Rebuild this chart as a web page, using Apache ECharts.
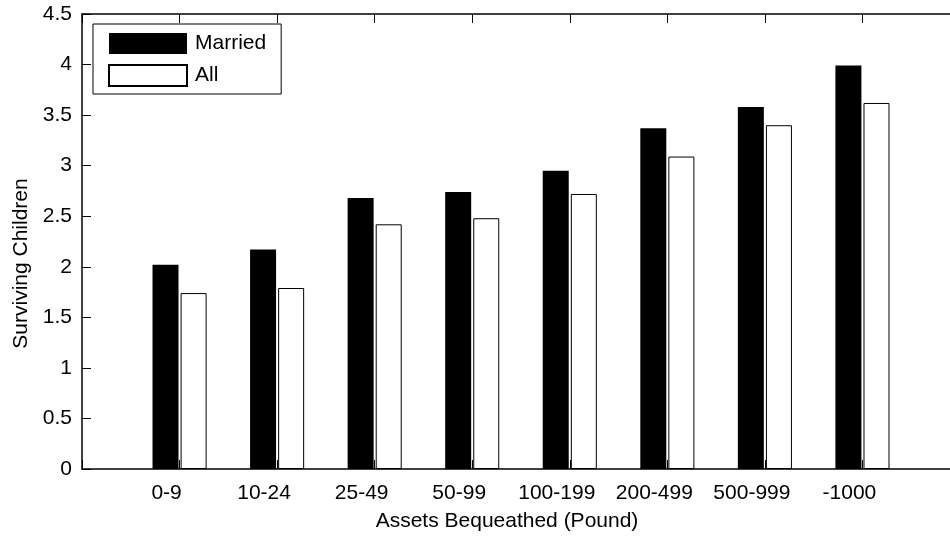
<!DOCTYPE html>
<html>
<head>
<meta charset="utf-8">
<script src="https://cdn.jsdelivr.net/npm/echarts@6/dist/echarts.min.js"></script>
<style>
  html, body { margin: 0; padding: 0; background: #fff; }
  #chart { width: 950px; height: 540px; }
</style>
</head>
<body>
<div id="chart"></div>
<script>
const categories = ['0-9', '10-24', '25-49', '50-99', '100-199', '200-499', '500-999', '-1000'];
const married = [2.02, 2.17, 2.68, 2.74, 2.95, 3.37, 3.58, 3.99];
const allVals = [1.74, 1.79, 2.42, 2.48, 2.72, 3.09, 3.40, 3.62];
const yTicks = { min: 0, max: 4.5, interval: 0.5 };

const FONT = "'Liberation Sans', Arial, Helvetica, sans-serif";
const FS = 21;
const chart = echarts.init(document.getElementById('chart'), null, { renderer: 'canvas' });

const axisLineStyle = { color: '#000', width: 1.5 };
const xCommon = {
  type: 'value', min: 0, max: categories.length + 1, interval: 1,
  splitLine: { show: false },
  axisLine: { show: true, onZero: false, lineStyle: axisLineStyle },
  axisTick: { show: true, inside: true, length: 9, lineStyle: { color: '#000', width: 1 } }
};
const yCommon = {
  type: 'value', min: yTicks.min, max: yTicks.max, interval: yTicks.interval,
  splitLine: { show: false },
  axisLine: { show: true, onZero: false, lineStyle: axisLineStyle },
  axisTick: { show: true, inside: true, length: 9, lineStyle: { color: '#000', width: 1 } }
};

chart.setOption({
  animation: false,
  backgroundColor: '#fff',
  textStyle: { fontFamily: FONT },
  grid: { left: 82, top: 14, width: 878, height: 455, containLabel: false, outerBoundsMode: 'none' },
  legend: {
    orient: 'vertical', left: 93, top: 24,
    padding: [9, 15, 7, 15],
    borderColor: '#000', borderWidth: 1, backgroundColor: '#fff',
    itemWidth: 78, itemHeight: 21, itemGap: 10,
    icon: 'rect',
    textStyle: { fontSize: FS, color: '#000', fontFamily: FONT, padding: [0, 0, 0, 3] },
    data: ['Married', 'All']
  },
  xAxis: [
    Object.assign({}, xCommon, {
      position: 'bottom',
      name: 'Assets Bequeathed (Pound)', nameLocation: 'middle', nameGap: 42,
      nameTextStyle: { fontSize: FS, color: '#000', fontFamily: FONT, padding: [0, 28, 0, 0] },
      axisLabel: {
        show: true, fontSize: FS, color: '#000', fontFamily: FONT, margin: 14,
        padding: [0, 26, 0, 0],
        formatter: v => categories[v - 1] || ''
      }
    }),
    Object.assign({}, xCommon, { position: 'top', axisLabel: { show: false } })
  ],
  yAxis: [
    Object.assign({}, yCommon, {
      position: 'left',
      name: 'Surviving Children', nameLocation: 'middle', nameGap: 48,
      nameTextStyle: { fontSize: FS, color: '#000', fontFamily: FONT, padding: [0, 44, 0, 0] },
      axisLabel: { show: true, fontSize: FS, color: '#000', fontFamily: FONT, margin: 10 }
    }),
    Object.assign({}, yCommon, { position: 'right', axisLabel: { show: false } })
  ],
  series: [
    {
      name: 'Married', type: 'bar', xAxisIndex: 0, yAxisIndex: 0,
      barWidth: 26, barGap: '8%',
      itemStyle: { color: '#000' },
      data: categories.map((c, i) => [i + 1, married[i]])
    },
    {
      name: 'All', type: 'bar', xAxisIndex: 0, yAxisIndex: 0,
      barWidth: 26, barGap: '8%',
      itemStyle: { color: '#fff', borderColor: '#000', borderWidth: 1 },
      data: categories.map((c, i) => [i + 1, allVals[i]])
    }
  ]
});
</script>
</body>
</html>
